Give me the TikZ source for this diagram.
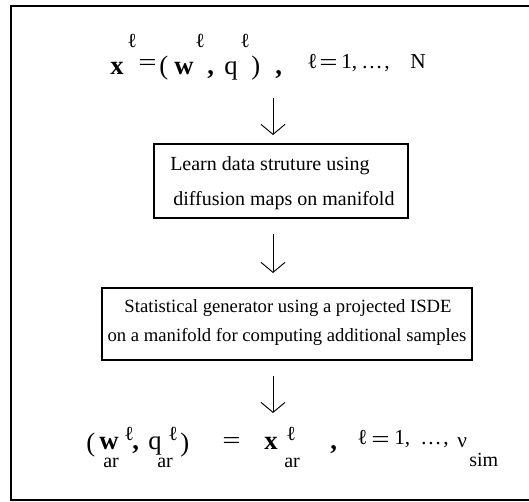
\documentclass[tikz,border=0pt]{standalone}
\usepackage{graphicx}
\usepackage{fontspec}
\setmainfont{Liberation Serif}
\usetikzlibrary{arrows.meta}
\newcommand{\wideeq}{\scalebox{1.35}[1]{=}}
\begin{document}
\begin{tikzpicture}[x=0.75pt,y=-0.75pt,
  big/.style={inner sep=0pt, anchor=base west, font=\fontsize{20}{20}\selectfont},
  bigb/.style={inner sep=0pt, anchor=base west, font=\fontsize{20}{20}\selectfont\bfseries},
  sm/.style={inner sep=0pt, anchor=base west, font=\fontsize{15}{15}\selectfont},
  mid/.style={inner sep=0pt, anchor=base west, font=\fontsize{16}{16}\selectfont},
  eqs/.style={inner sep=0pt, anchor=base west, font=\fontsize{18}{18}\selectfont},
  txt/.style={inner sep=0pt, font=\fontsize{15}{15}\selectfont},
  txs/.style={inner sep=0pt, font=\fontsize{14}{14}\selectfont},
  stepbox/.style={draw, line width=0.9pt, inner sep=0pt, outer sep=0pt},
  flow/.style={-{Straight Barb[length=7.5pt,width=18pt,line width=0.7pt]}, line width=0.7pt}]
\useasboundingbox (0,0) rectangle (529,502);
\clip (0,0) rectangle (529,502);
\draw[line width=1pt] (11,6) rectangle (535,500);
% top formula
\node[bigb] (tx) at (110,75) {x};
\node[sm] (tl1) at (127,48) {ℓ};
\node[eqs] (teq) at (138,71) {\wideeq};
\node[big] (tlp) at (159,75) {(};
\node[bigb] (tw) at (174,75) {w};
\node[sm] (tl2) at (195,48) {ℓ};
\node[bigb] (tc1) at (207,75) {,};
\node[big] (tq) at (224,75) {q};
\node[sm] (tl3) at (240,48) {ℓ};
\node[big] (trp) at (251,75) {)};
\node[bigb] (tc2) at (275,75) {,};
\node[mid] (tl4) at (307,69) {ℓ};
\node[eqs] (teq2) at (319,71) {\wideeq};
\node[mid] (tone) at (341,69) {1,};
\node[mid] (tdots) at (361,69) {…};
\node[mid] (tc3) at (384,69) {,};
\node[mid] (tN) at (410,69) {N};
% arrows and boxes
\coordinate (a1s) at (273,98);
\coordinate (a1e) at (273,135);
\node[stepbox, minimum width=190.5pt, minimum height=55.5pt] (b1) at (281,181) {};
\node[txt, anchor=base west] (b1l1) at (170,171) {Learn data struture using};
\node[txt, anchor=base west] (b1l2) at (173,206) {diffusion maps on manifold};
\coordinate (a2s) at (273,234);
\coordinate (a2e) at (273,273);
\node[stepbox, minimum width=277.5pt, minimum height=54pt] (b2) at (287,324) {};
\node[txs, anchor=base] (b2l1) at (288,313) {Statistical generator using a projected ISDE};
\node[txs, anchor=base] (b2l2) at (287,342) {on a manifold for computing additional samples};
\coordinate (a3s) at (273,376);
\coordinate (a3e) at (273,413);
\draw[flow] (a1s) -- (a1e);
\draw[flow] (a2s) -- (a2e);
\draw[flow] (a3s) -- (a3e);
% bottom formula
\node[big] (blp) at (86,452) {(};
\node[bigb] (bw) at (99,450) {w};
\node[sm] (bl1) at (124,441) {ℓ};
\node[sm] (bar1) at (103,468) {ar};
\node[bigb] (bc1) at (132,450) {,};
\node[big] (bq) at (148,450) {q};
\node[sm] (bl2) at (168,441) {ℓ};
\node[sm] (bar2) at (157,468) {ar};
\node[big] (brp) at (180,452) {)};
\node[eqs] (beq) at (222,449) {\wideeq};
\node[bigb] (bx) at (264,450) {x};
\node[sm] (bl3) at (286,441) {ℓ};
\node[sm] (bar3) at (284,468) {ar};
\node[bigb] (bc2) at (330,450) {,};
\node[mid] (bl4) at (357,445) {ℓ};
\node[eqs] (beq2) at (371,448) {\wideeq};
\node[mid] (bone) at (394,445) {1,};
\node[mid] (bdots) at (420,445) {…};
\node[mid] (bc3) at (443,445) {,};
\node[mid] (bnu) at (457,448) {ν};
\node[sm] (bsim) at (469,467) {sim};
\end{tikzpicture}
\end{document}
